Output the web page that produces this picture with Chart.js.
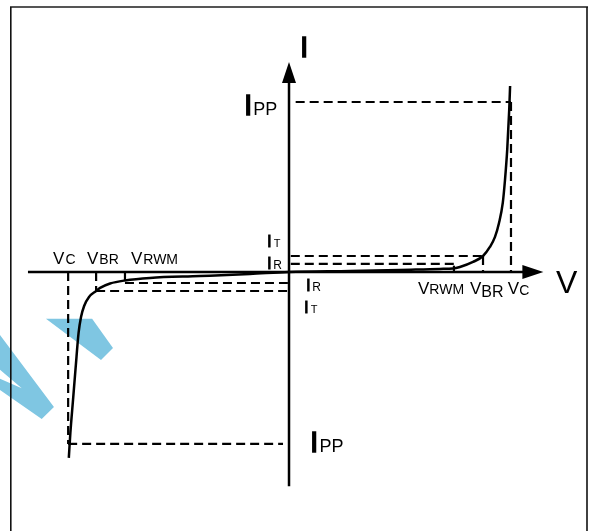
<!DOCTYPE html>
<html>
<head>
<meta charset="utf-8">
<script src="https://cdn.jsdelivr.net/npm/chart.js@4"></script>
<style>
  html, body { margin: 0; padding: 0; background: #fff; }
  #wrap { width: 594px; height: 531px; }
</style>
</head>
<body>
<div id="wrap"><canvas id="c" width="594" height="531"></canvas></div>
<script>
// ---------- data (V and I in normalized units) ----------
const curveV = [-9.92, -9.85, -9.73, -9.61, -9.48, -9.37, -9.23, -9.01, -8.69, -8.51, -8.06, -7.39, -6.26, -4.01, -1.76, 0,
                2.75, 4.99, 6.80, 7.39, 7.70, 8.29, 8.74, 9.05, 9.28, 9.46, 9.63, 9.73, 9.83, 9.92, 9.96];
const curveI = [-10.94, -9.47, -7.53, -5.59, -3.59, -2.65, -2.0, -1.47, -1.12, -0.94, -0.68, -0.5, -0.35, -0.24, -0.12, 0,
                0.06, 0.12, 0.18, 0.20, 0.29, 0.59, 0.94, 1.47, 2.06, 2.88, 4.06, 5.41, 7.18, 9.53, 10.94];

// positive side levels
const posVoltage = [7.43, 8.74, 10.0];      // VRWM, VBR, VC
const posCurrent = [0.47, 0.94, 10.0];      // IR, IT, IPP
// negative side levels
const negVoltage = [-7.39, -8.69, -9.95];   // VRWM, VBR, VC
const negCurrent = [-0.65, -1.12, -10.12];  // IR, IT, IPP

// axis extents
const axisV = [-11.76, 11.46];
const axisI = [-12.6, 12.35];

// text labels [main, subscript]
const labelTexts = [
  ['I', ''], ['V', ''],
  ['I', 'PP'], ['I', 'PP'],
  ['V', 'C'], ['V', 'BR'], ['V', 'RWM'],
  ['V', 'RWM'], ['V', 'BR'], ['V', 'C'],
  ['I', 'T'], ['I', 'R'], ['I', 'R'], ['I', 'T']
];

// watermark shape (decorative)
const markAV = [-10.95, -8.87, -7.93, -8.47, -10.95];
const markAI = [-2.76, -2.76, -4.47, -5.18, -2.76];
const markBV = [-13.02, -10.59, -11.14, -13.02, -13.02, -12.04, -13.02, -13.02];
const markBI = [-3.71, -7.94, -8.65, -6.94, -6.29, -6.84, -5.76, -3.71];

// ---------- build datasets ----------
const pts = (vs, is) => vs.map((v, k) => ({ x: v, y: is[k] }));
const seg = (x1, y1, x2, y2) => [{ x: x1, y: y1 }, { x: x2, y: y2 }];

const dash = [9, 5];
const dashedSet = (data) => ({
  data, showLine: true, borderColor: '#000', borderWidth: 2.2, borderDash: dash,
  pointRadius: 0, fill: false, tension: 0, order: 2
});

const [pR, pB, pC] = posVoltage;
const [iR, iT, iP] = posCurrent;
const [nR, nB, nC] = negVoltage;
const [jR, jT, jP] = negCurrent;

const datasets = [
  // characteristic curve
  { data: pts(curveV, curveI), showLine: true, borderColor: '#000', borderWidth: 2.5,
    pointRadius: 0, fill: false, cubicInterpolationMode: 'monotone', order: 0 },
  // axes
  { data: seg(axisV[0], 0, axisV[1] - 0.9, 0), showLine: true, borderColor: '#000', borderWidth: 2.5,
    pointRadius: 0, fill: false, order: 1 },
  { data: seg(0, axisI[0], 0, axisI[1] - 1.1), showLine: true, borderColor: '#000', borderWidth: 2.5,
    pointRadius: 0, fill: false, order: 1 },
  // positive dashed guides
  dashedSet(seg(0.3, iP, pC, iP)),
  dashedSet(seg(pC, iP, pC, 0)),
  dashedSet(seg(0.08, iT, pB, iT)),
  dashedSet(seg(pB, iT, pB, 0)),
  dashedSet(seg(0.08, iR, pR, iR)),
  dashedSet(seg(pR, iR - 0.1, pR, 0)),
  // negative dashed guides
  dashedSet(seg(nC, jP, -0.27, jP)),
  dashedSet(seg(nC, 0, nC, jP)),
  dashedSet(seg(nB, jT, -0.05, jT)),
  dashedSet(seg(nB, 0, nB, jT)),
  dashedSet(seg(nR, jR, -0.05, jR)),
  dashedSet(seg(nR, 0, nR, jR + 0.1)),
  // watermark
  { data: pts(markAV, markAI), showLine: true, borderWidth: 0, borderColor: 'rgba(0,0,0,0)',
    backgroundColor: 'rgb(127,198,226)', fill: 'shape', pointRadius: 0, tension: 0, order: 10 },
  { data: pts(markBV, markBI), showLine: true, borderWidth: 0, borderColor: 'rgba(0,0,0,0)',
    backgroundColor: 'rgb(127,198,226)', fill: 'shape', pointRadius: 0, tension: 0, order: 10 }
];

// ---------- label layout (anchor in data units, styles) ----------
const FONT = '"Liberation Sans", Arial, Helvetica, sans-serif';
const labelLayout = [
  { v: 0.5,   i: 12.65, size: 30, subSize: 0,  gap: 0, drop: 0, bold: 1.4 },
  { v: 12.03, i: -1.24, size: 32, subSize: 0,  gap: 0, drop: 0, bold: 0 },
  { v: -2.03, i: 9.24,  size: 30, subSize: 18, gap: 1, drop: 0, bold: 1.4 },
  { v: 0.95,  i: -10.59,size: 30, subSize: 18, gap: 1, drop: 0, bold: 1.4 },
  { v: -10.63,i: 0.47,  size: 17, subSize: 14, gap: 1, drop: 0, bold: 0 },
  { v: -9.10, i: 0.47,  size: 17, subSize: 14, gap: 1, drop: 0, bold: 0 },
  { v: -7.12, i: 0.47,  size: 17, subSize: 14, gap: 1, drop: 0, bold: 0 },
  { v: 5.81,  i: -1.29, size: 17, subSize: 14, gap: 0, drop: 0, bold: 0 },
  { v: 8.15,  i: -1.29, size: 17, subSize: 16, gap: 0, drop: 3, bold: 0 },
  { v: 9.86,  i: -1.29, size: 17, subSize: 14, gap: 0, drop: 1, bold: 0 },
  { v: -0.99, i: 1.47,  size: 17, subSize: 11, gap: 2, drop: 0, bold: 0.8 },
  { v: -0.99, i: 0.18,  size: 17, subSize: 12, gap: 1.5, drop: 0, bold: 0.8 },
  { v: 0.77,  i: -1.12, size: 17, subSize: 12, gap: 1.5, drop: 0, bold: 0.8 },
  { v: 0.68,  i: -2.41, size: 17, subSize: 11, gap: 2, drop: 0, bold: 0.8 }
];

const extras = {
  id: 'extras',
  afterDatasetsDraw(chart) {
    const { ctx, scales: { x, y } } = chart;
    ctx.save();
    ctx.fillStyle = '#000';
    ctx.strokeStyle = '#000';
    // x arrow head
    let tx = x.getPixelForValue(axisV[1]), ty = y.getPixelForValue(0);
    ctx.beginPath(); ctx.moveTo(tx, ty); ctx.lineTo(tx - 21, ty - 7); ctx.lineTo(tx - 21, ty + 7); ctx.closePath(); ctx.fill();
    // y arrow head
    tx = x.getPixelForValue(0); ty = y.getPixelForValue(axisI[1]);
    ctx.beginPath(); ctx.moveTo(tx, ty); ctx.lineTo(tx - 7, ty + 21); ctx.lineTo(tx + 7, ty + 21); ctx.closePath(); ctx.fill();
    // labels
    ctx.textBaseline = 'alphabetic';
    ctx.textAlign = 'left';
    labelTexts.forEach((t, k) => {
      const L = labelLayout[k];
      const px = x.getPixelForValue(L.v), py = y.getPixelForValue(L.i);
      ctx.font = `${L.size}px ${FONT}`;
      ctx.fillText(t[0], px, py);
      if (L.bold) { ctx.lineWidth = L.bold; ctx.strokeText(t[0], px, py); }
      if (t[1]) {
        const w = ctx.measureText(t[0]).width;
        ctx.font = `${L.subSize}px ${FONT}`;
        ctx.fillText(t[1], px + w + L.gap, py + L.drop);
      }
    });
    ctx.restore();
  },
  afterDraw(chart) {
    const { ctx } = chart;
    ctx.save();
    ctx.lineWidth = 2;
    ctx.strokeStyle = '#555';
    ctx.beginPath(); ctx.moveTo(10, 7); ctx.lineTo(588, 7); ctx.stroke();
    ctx.strokeStyle = '#111';
    ctx.lineWidth = 1.6;
    ctx.beginPath(); ctx.moveTo(10.8, 7); ctx.lineTo(10.8, 531); ctx.stroke();
    ctx.beginPath(); ctx.moveTo(587, 7); ctx.lineTo(587, 531); ctx.stroke();
    ctx.restore();
  }
};

new Chart(document.getElementById('c'), {
  type: 'scatter',
  data: { datasets },
  options: {
    responsive: false,
    animation: false,
    layout: { padding: 0 },
    plugins: { legend: { display: false }, tooltip: { enabled: false } },
    scales: {
      x: { type: 'linear', min: -13.02, max: 13.74, display: false },
      y: { type: 'linear', min: -15.24, max: 16.0, display: false }
    },
    elements: { line: { borderCapStyle: 'butt' } }
  },
  plugins: [extras]
});
</script>
</body>
</html>
